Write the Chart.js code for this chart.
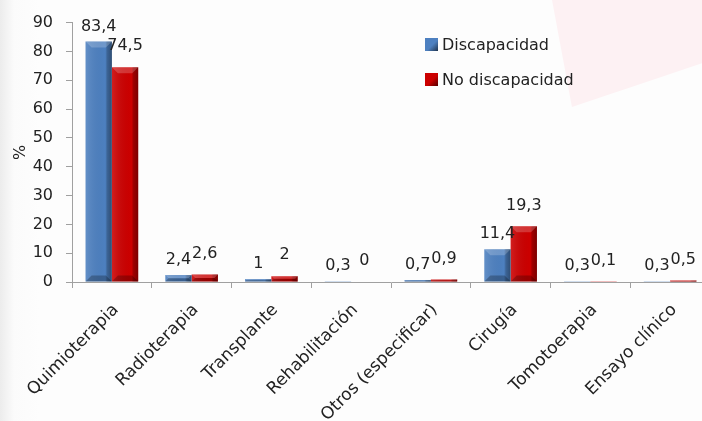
<!DOCTYPE html>
<html><head><meta charset="utf-8">
<script src="https://cdn.jsdelivr.net/npm/chart.js@4"></script>
<style>
html,body{margin:0;padding:0;overflow:hidden;background:#fff;}
#wrap{position:relative;width:702px;height:421px;overflow:hidden;background:linear-gradient(90deg,#ececec 0px,#fbfbfb 14px,#fdfdfd 40px);}
#pink{position:absolute;left:552px;top:0;width:150px;height:107px;background:#fdf1f3;clip-path:polygon(0 0,100% 0,100% 59%,13.3% 100%);}
#c{position:absolute;left:0;top:0;}
#legend{position:absolute;left:425px;top:33px;font-family:'DejaVu Sans',sans-serif;font-size:16px;color:#222;}
#legend .it{display:flex;align-items:center;height:22px;margin-bottom:13px;}
#legend .sw{width:13px;height:13px;margin-right:4px;}
</style></head>
<body>
<div id="wrap">
<div id="pink"></div>
<canvas id="c" width="712" height="421"></canvas>
<div id="legend"></div>
</div>
<script>
const categories = ['Quimioterapia','Radioterapia','Transplante','Rehabilitación','Otros (especificar)','Cirugía','Tomotoerapia','Ensayo clínico'];
const seriesNames = ['Discapacidad','No discapacidad'];
const discapacidad = [83.4,2.4,1,0.3,0.7,11.4,0.3,0.3];
const noDiscapacidad = [74.5,2.6,2,0,0.9,19.3,0.1,0.5];
const yTicks = [0,10,20,30,40,50,60,70,80,90];
const colors = ['#4d80c0','#cc0000'];
const FONT = 'DejaVu Sans';

const fmt = v => String(v).replace('.', ',');

const bevel = {
  id:'bevel',
  afterDatasetsDraw(chart){
    const ctx = chart.ctx;
    chart.data.datasets.forEach((ds,i)=>{
      chart.getDatasetMeta(i).data.forEach(bar=>{
        const l = bar.x - bar.width/2, r = bar.x + bar.width/2, t = bar.y, b = bar.base;
        if (b - t < 0.5) return;
        const g = ctx.createLinearGradient(l,0,r,0);
        g.addColorStop(0,'rgba(255,255,255,0.12)');
        g.addColorStop(0.75,'rgba(0,0,0,0)');
        g.addColorStop(0.82,'rgba(0,0,0,0.22)');
        g.addColorStop(1,'rgba(0,0,0,0.4)');
        ctx.save();
        ctx.fillStyle = g;
        ctx.fillRect(l,t,r-l,b-t);
        const bv = Math.min(6, (b-t)/2);
        ctx.fillStyle='rgba(0,0,0,0.25)';
        ctx.beginPath(); ctx.moveTo(l,b); ctx.lineTo(l+bv,b-bv); ctx.lineTo(r-bv,b-bv); ctx.lineTo(r,b); ctx.closePath(); ctx.fill();
        ctx.fillStyle='rgba(255,255,255,0.2)';
        ctx.beginPath(); ctx.moveTo(l,t); ctx.lineTo(r,t); ctx.lineTo(r-bv,t+bv); ctx.lineTo(l+bv,t+bv); ctx.closePath(); ctx.fill();
        ctx.restore();
      });
    });
  }
};

const labels = {
  id:'vals',
  afterDatasetsDraw(chart){
    const ctx = chart.ctx;
    ctx.save();
    ctx.font = '16px "' + FONT + '"';
    ctx.fillStyle = '#222';
    ctx.textAlign = 'center';
    ctx.textBaseline = 'middle';
    chart.data.datasets.forEach((ds,i)=>{
      chart.getDatasetMeta(i).data.forEach((bar,j)=>{
        const off = i === 0 ? 15 : 21;
        ctx.fillText(fmt(ds.data[j]), bar.x, bar.y - off);
      });
    });
    ctx.restore();
  }
};

const series = [discapacidad, noDiscapacidad];
new Chart(document.getElementById('c'), {
  type:'bar',
  data:{
    labels: categories,
    datasets: series.map((d,i)=>({label:seriesNames[i], data:d, backgroundColor:colors[i], borderWidth:0,
      categoryPercentage:0.66, barPercentage:1}))
  },
  options:{
    responsive:false, animation:false,
    layout:{padding:{left:0,top:20,right:2,bottom:0}},
    plugins:{legend:{display:false}, tooltip:{enabled:false}},
    scales:{
      x:{
        offset:true,
        grid:{offset:true, drawOnChartArea:false, tickLength:6, color:'#a0a0a0'},
        border:{color:'#a0a0a0'},
        ticks:{maxRotation:45, minRotation:45, autoSkip:false, color:'#222', font:{family:FONT, size:17}, padding:12, labelOffset:4},
        afterFit: s => { s.height = 139; }
      },
      y:{
        min:0, max:90,
        afterBuildTicks: s => { s.ticks = yTicks.map(v=>({value:v})); },
        grid:{drawOnChartArea:false, tickLength:6, color:'#a0a0a0'},
        border:{color:'#a0a0a0'},
        ticks:{color:'#222', font:{family:FONT, size:16}, padding:13},
        title:{display:true, text:'%', color:'#222', font:{family:FONT, size:16}, padding:{top:11,bottom:0}},
        afterFit: s => { s.width = 72; }
      }
    }
  },
  plugins:[bevel, labels]
});

const lg = document.getElementById('legend');
seriesNames.forEach((n,i)=>{
  const it = document.createElement('div'); it.className='it';
  const sw = document.createElement('div'); sw.className='sw';
  sw.style.background = `linear-gradient(135deg, ${colors[i]} 55%, rgba(0,0,0,0.6))`;
  sw.style.backgroundColor = colors[i];
  const tx = document.createElement('span'); tx.textContent = n;
  it.appendChild(sw); it.appendChild(tx); lg.appendChild(it);
});
</script>
</body></html>
